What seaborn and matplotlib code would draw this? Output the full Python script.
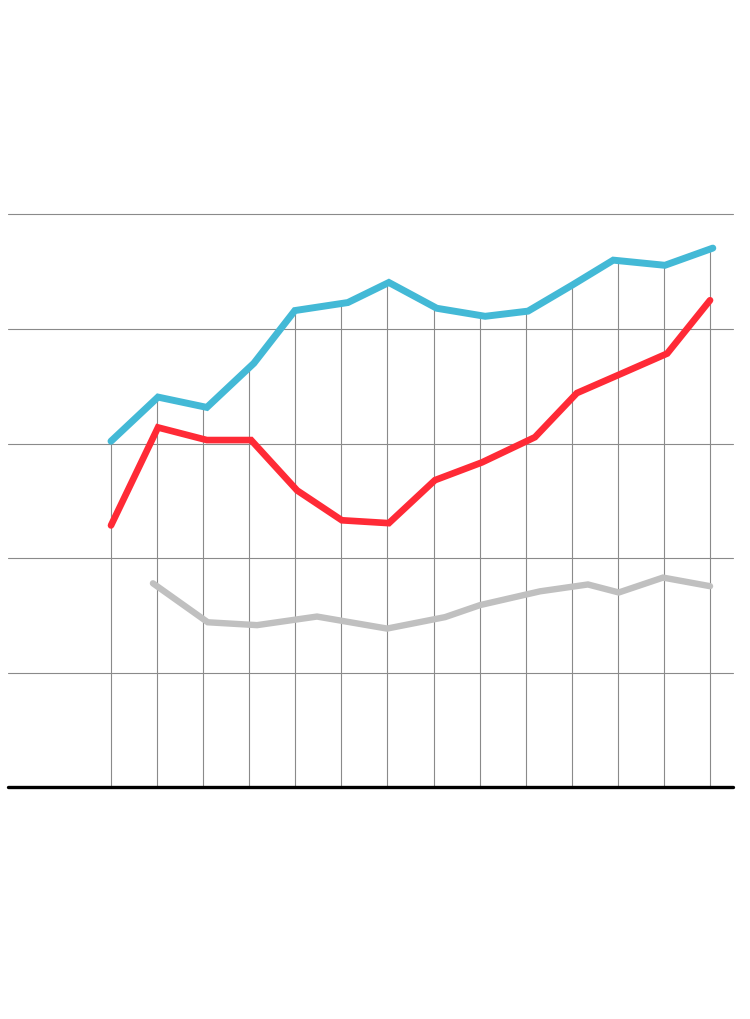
import numpy as np
import pandas as pd
import matplotlib
matplotlib.use("Agg")
import matplotlib.pyplot as plt
import seaborn as sns

# positions of the vertical guide lines (periods)
periods = list(range(14))

# blue series
blue_x = [0, 1.02, 2.08, 3.10, 3.99, 5.14, 6.03, 7.07, 8.12, 9.05, 10.0, 10.9, 12.02, 13.06]
blue_v = [60.4, 68.1, 66.3, 74.0, 83.2, 84.6, 88.1, 83.6, 82.2, 83.1, 87.6, 92.0, 91.1, 94.1]

# red series
red_x = [0, 1.02, 2.08, 3.04, 4.04, 5.01, 6.03, 7.03, 8.05, 9.2, 10.11, 11.05, 12.07, 13.0]
red_v = [45.7, 62.8, 60.6, 60.6, 51.8, 46.6, 46.1, 53.6, 56.7, 61.1, 68.8, 72.1, 75.7, 85.0]

# gray series
gray_x = [0.91, 2.1, 3.17, 4.47, 5.99, 7.25, 8.01, 9.31, 10.35, 11.02, 11.98, 13.0]
gray_v = [35.6, 28.8, 28.3, 29.8, 27.7, 29.7, 31.8, 34.2, 35.4, 34.0, 36.6, 35.1]

grid_levels = [20, 40, 60, 80, 100]

sns.set_style("white")

fig = plt.figure(figsize=(7.5, 10.2), dpi=100)
ax = fig.add_axes([8 / 750, (1020 - 788.3) / 1020, 725 / 750, 573 / 1020])

# horizontal gridlines
for g in grid_levels:
    ax.axhline(g, color="#8a8a8a", lw=0.8, zorder=1, clip_on=False)

# vertical drop lines up to the blue line
tops = np.interp(periods, blue_x, blue_v)
ax.vlines(periods, 0, tops, color="#8a8a8a", lw=0.8, zorder=1)

df_blue = pd.DataFrame({"x": blue_x, "v": blue_v})
df_red = pd.DataFrame({"x": red_x, "v": red_v})
df_gray = pd.DataFrame({"x": gray_x, "v": gray_v})

sns.lineplot(data=df_gray, x="x", y="v", ax=ax, color="#c0c0c0", lw=4.6,
             solid_capstyle="round", solid_joinstyle="miter", sort=False, zorder=3)
sns.lineplot(data=df_red, x="x", y="v", ax=ax, color="#ff2a36", lw=4.8,
             solid_capstyle="round", solid_joinstyle="miter", sort=False, zorder=4)
sns.lineplot(data=df_blue, x="x", y="v", ax=ax, color="#43b9d6", lw=5.0,
             solid_capstyle="round", solid_joinstyle="miter", sort=False, zorder=5)

# baseline
ax.axhline(0, color="black", lw=2.4, zorder=6, clip_on=False)

ax.set_xlim((8 - 111) / 46.08, (733 - 111) / 46.08)
ax.set_ylim(0, 100)
ax.set_xlabel("")
ax.set_ylabel("")
ax.set_xticks([])
ax.set_yticks([])
for s in ax.spines.values():
    s.set_visible(False)
ax.margins(0)

fig.savefig("out.png", dpi=100, facecolor="white")
